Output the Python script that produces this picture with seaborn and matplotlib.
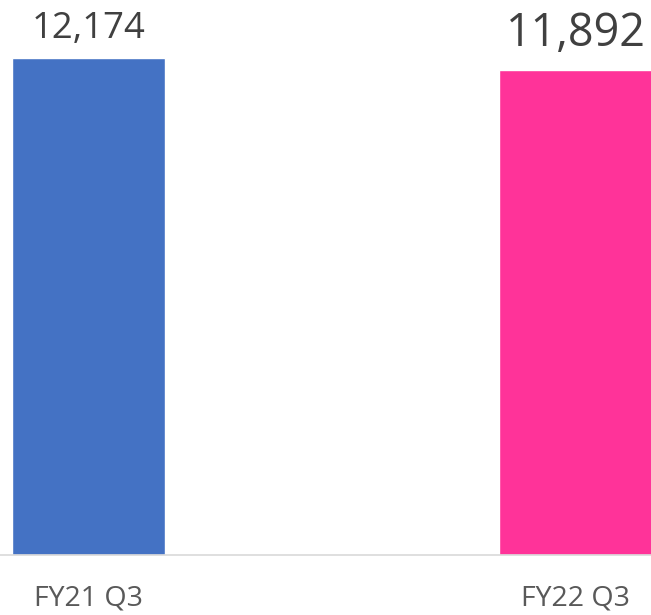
import matplotlib
matplotlib.use("Agg")
import matplotlib.pyplot as plt
import seaborn as sns
import pandas as pd

categories = ["FY21 Q3", "FY22 Q3"]
values = [12174, 11892]
value_labels = ["12,174", "11,892"]
colors = ["#4472C4", "#FF3399"]

sns.set_style("white")
plt.rcParams['font.family'] = ['Open Sans', 'DejaVu Sans']

df = pd.DataFrame({"cat": categories, "val": values})

fig = plt.figure(figsize=(6.51, 6.15), dpi=100)
ax = fig.add_axes([0, 60/615, 1, 555/615])
sns.barplot(data=df, x="cat", y="val", hue="cat", palette=colors, width=0.314,
            saturation=1, legend=False, ax=ax)

ax.set_ylim(0, 13600)
ax.set_xlim(-0.1817, 1.155)
for s in ["top", "right", "left"]:
    ax.spines[s].set_visible(False)
ax.spines["bottom"].set_color("#D9D9D9")
ax.spines["bottom"].set_linewidth(1.2)
ax.set_yticks([])
ax.set_xlabel("")
ax.set_ylabel("")
ax.tick_params(axis="x", length=0, pad=21, labelsize=20.5, labelcolor="#595959")

sizes = [26.3, 32.3]
offsets = [14.4, 17.3]
for i, (v, lab) in enumerate(zip(values, value_labels)):
    ax.annotate(lab, (i, v), xytext=(0, offsets[i]), textcoords="offset points",
                ha="center", va="baseline", fontsize=sizes[i], color="#404040",
                annotation_clip=False)

fig.savefig("out.png", dpi=100)
